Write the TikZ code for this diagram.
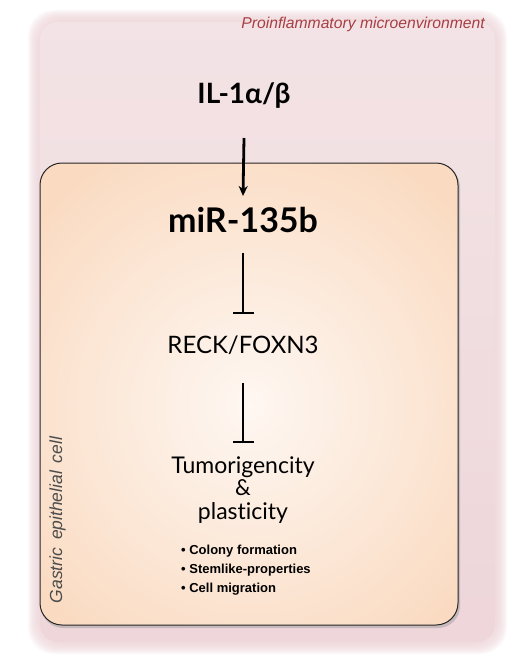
\documentclass[tikz,border=0pt]{standalone}
\usepackage{fontspec}
\setmainfont{Lato}[Ligatures={TeX,NoCommon}]
\newfontfamily\arialfont{Liberation Sans}
\usetikzlibrary{arrows.meta}

\definecolor{envpink}{RGB}{237,212,216}
\definecolor{envlight}{RGB}{245,232,234}
\definecolor{cellpeach}{RGB}{250,218,192}
\definecolor{celllight}{RGB}{254,247,242}
\definecolor{envtext}{RGB}{168,62,66}

\begin{document}
\begin{tikzpicture}[x=1pt,y=-1pt,
    lbl/.style={inner sep=0pt,anchor=base},
    act/.style={line width=2.8pt,-{Stealth[length=10pt,width=9pt]}},
    inh/.style={line width=1.8pt,-{Bar[width=21pt,line width=1.8pt]}}]
    \useasboundingbox (0,0) rectangle (532,666);
    % proinflammatory surrounding, soft edge
    \foreach \i in {0,...,11}
        \fill[envpink,opacity=0.14,rounded corners=26pt] (28+\i,10+\i) rectangle (507-\i,654-\i);
    \shade[top color=envlight,bottom color=envpink,opacity=0.7,rounded corners=18pt] (40,22) rectangle (495,642);
    % gastric epithelial cell
    \fill[black!40,opacity=0.45,rounded corners=22pt] (41,165) rectangle (460,628);
    \begin{scope}
        \clip[rounded corners=22pt] (40,163) rectangle (458,625);
        \shade[inner color=celllight,outer color=cellpeach] (-40,110) rectangle (540,700);
    \end{scope}
    \draw[black!85,line width=1pt,rounded corners=22pt] (40,163) rectangle (458,625);

    \node[lbl,anchor=base east,text=envtext,font=\arialfont\itshape\fontsize{15.7}{18}\selectfont] (env) at (485,29) {Proinflammatory microenvironment};
    \node[lbl,anchor=base,rotate=90,text=black!70,font=\arialfont\itshape\fontsize{17.5}{20}\selectfont] (cell) at (62,520) {Gastric\, epithelial\, cell};

    \node[lbl,font=\bfseries\fontsize{28}{30}\selectfont] (il) at (244,103) {IL-1α/β};
    \node[lbl,font=\bfseries\fontsize{34}{36}\selectfont] (mir) at (243,232) {miR-135b};
    \node[lbl,font=\fontsize{24}{26}\selectfont] (reck) at (243,353) {RECK/FOXN3};
    \node[lbl,font=\fontsize{23}{26}\selectfont] (tumor) at (243,473) {Tumorigencity};
    \node[lbl,font=\fontsize{22}{26}\selectfont] (amp) at (243,495) {\&};
    \node[lbl,font=\fontsize{23}{26}\selectfont] (plast) at (243,519) {plasticity};
    \node[lbl,anchor=base west,align=left,font=\arialfont\bfseries\fontsize{13}{18.7}\selectfont] (traits) at (181,592)
        {\textbullet\ Colony formation\\\textbullet\ Stemlike-properties\\\textbullet\ Cell migration};

    \draw[act] ([yshift=-35pt]il.base) -- ([yshift=36pt]mir.base);
    \draw[inh] ([yshift=-21pt]mir.base) -- ([yshift=39pt]reck.base);
    \draw[inh] ([yshift=-30pt]reck.base) -- ([yshift=30pt]tumor.base);
\end{tikzpicture}
\end{document}
